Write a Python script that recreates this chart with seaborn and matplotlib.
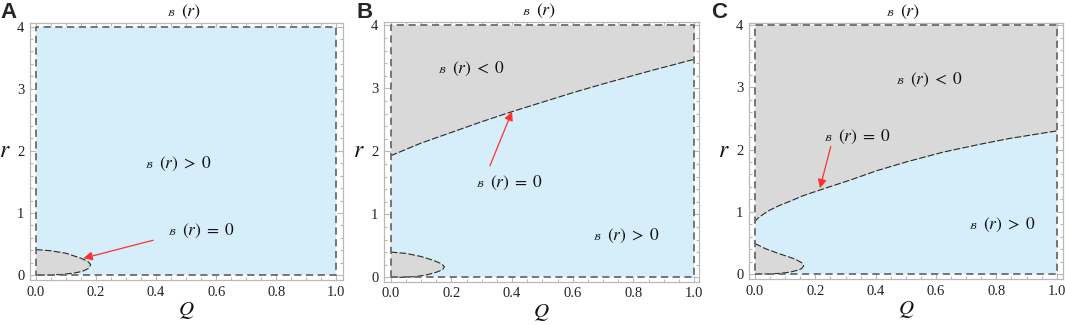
import numpy as np
import pandas as pd
import matplotlib
matplotlib.use("Agg")
import matplotlib.pyplot as plt
import seaborn as sns
from matplotlib.ticker import MultipleLocator

# ---------------- data ----------------
domain_q = [0.0, 1.0, 1.0, 0.0, 0.0]
domain_r = [0.0, 0.0, 4.0, 4.0, 0.0]

# small lobe near the origin (B(r) < 0), traced from Q=0 top, round the tip, back to r=0
lobe_A_q = [0.0, 0.05, 0.10, 0.15, 0.172, 0.182, 0.176, 0.155, 0.125, 0.085, 0.045, 0.0]
lobe_A_r = [0.41, 0.39, 0.35, 0.27, 0.22, 0.17, 0.11, 0.06, 0.03, 0.01, 0.0, 0.0]

lobe_B_q = [0.0, 0.05, 0.10, 0.14, 0.165, 0.177, 0.171, 0.15, 0.12, 0.08, 0.04, 0.0]
lobe_B_r = [0.40, 0.38, 0.33, 0.27, 0.22, 0.17, 0.12, 0.08, 0.04, 0.01, 0.0, 0.0]

lobe_C_q = [0.0, 0.033, 0.078, 0.133, 0.155, 0.161, 0.155, 0.144, 0.12, 0.10, 0.056, 0.0]
lobe_C_r = [0.49, 0.41, 0.33, 0.24, 0.18, 0.13, 0.09, 0.064, 0.035, 0.02, 0.0, 0.0]

# upper boundary B(r)=0 (region above is B(r) < 0)
upper_B_q = [0.0, 0.1, 0.2, 0.3, 0.4, 0.5, 0.6, 0.7, 0.85, 1.0]
upper_B_r = [1.93, 2.13, 2.30, 2.47, 2.63, 2.78, 2.93, 3.07, 3.27, 3.46]

upper_C_q = [0.0, 0.002, 0.008, 0.017, 0.03, 0.05, 0.08, 0.116, 0.16, 0.215, 0.315,
             0.403, 0.5, 0.624, 0.75, 0.845, 1.0]
upper_C_r = [0.83, 0.86, 0.89, 0.925, 0.97, 1.03, 1.10, 1.17, 1.26, 1.35, 1.51,
             1.66, 1.80, 1.96, 2.09, 2.18, 2.30]

panel_labels = ["A", "B", "C"]
title_text = r"$(r)$"

# annotation texts: (text, q, r) with q/r of the "(" start and baseline
labels_A = [(r"$(r)\;>\;0$", 0.408, 1.72), (r"$(r)\;=\;0$", 0.486, 0.645)]
labels_B = [(r"$(r)\;<\;0$", 0.201, 3.24), (r"$(r)\;=\;0$", 0.327, 1.44), (r"$(r)\;>\;0$", 0.712, 0.59)]
labels_C = [(r"$(r)\;<\;0$", 0.514, 3.05), (r"$(r)\;=\;0$", 0.276, 2.14), (r"$(r)\;>\;0$", 0.757, 0.73)]

# arrows: (tail q, tail r, head q, head r)
arrow_A = (0.39, 0.56, 0.158, 0.27)
arrow_B = (0.327, 1.77, 0.40, 2.63)
arrow_C = (0.251, 2.05, 0.215, 1.38)

# ---------------- style ----------------
sns.set_theme(style="white")
plt.rcParams["font.family"] = ["Liberation Serif", "DejaVu Serif"]
plt.rcParams["mathtext.fontset"] = "stix"

BLUE = "#d6eefa"
GRAY = "#d9d9d9"
FRAME = "#b8b8b8"

fig = plt.figure(figsize=(10.65, 3.25), dpi=100)

axes_pos = [
    [0.0282, 0.1385, 0.294, 0.792],
    [0.3606, 0.1332, 0.2958, 0.800],
    [0.7033, 0.1406, 0.2946, 0.7877],
]
xlims = [(-0.02, 1.023), (-0.022, 1.0165), (-0.02, 1.02)]
ylims = [(-0.08, 4.065), (-0.07, 4.057), (-0.085, 4.03)]

lobes = [(lobe_A_q, lobe_A_r), (lobe_B_q, lobe_B_r), (lobe_C_q, lobe_C_r)]
uppers = [None, (upper_B_q, upper_B_r), (upper_C_q, upper_C_r)]
labels_all = [labels_A, labels_B, labels_C]
arrows = [arrow_A, arrow_B, arrow_C]
panel_x_px = [0, 357, 711]


def btext(ax, txt, q, r, fs=12.5):
    ax.annotate(txt, (q, r), xycoords="data", ha="left", va="baseline",
                fontsize=fs, color="#111111")
    ax.annotate(r"$\mathcal{B}$", (q, r), xycoords="data", xytext=(-4, 0),
                textcoords="offset points", ha="right", va="baseline",
                fontsize=6.5, color="#111111")


for i in range(3):
    ax = fig.add_axes(axes_pos[i])
    # domain background
    ax.fill_between(domain_q[:2], 0, 4, color=BLUE, lw=0, zorder=1)
    # upper region
    if uppers[i] is not None:
        uq, ur = uppers[i]
        ax.fill_between(uq, ur, 4, color=GRAY, lw=0, zorder=2)
        df = pd.DataFrame({"Q": uq, "r": ur})
        sns.lineplot(data=df, x="Q", y="r", ax=ax, sort=False, estimator=None,
                     color="#2a2a2a", lw=0.8, zorder=4)
        ax.lines[-1].set_dashes((6, 2))
    # lobe
    lq, lr = lobes[i]
    ax.fill(lq, lr, color=GRAY, lw=0, zorder=2)
    dfl = pd.DataFrame({"Q": lq, "r": lr})
    sns.lineplot(data=dfl, x="Q", y="r", ax=ax, sort=False, estimator=None,
                 color="#2a2a2a", lw=0.8, zorder=4)
    ax.lines[-1].set_dashes((6, 2))
    # domain border
    dfd = pd.DataFrame({"Q": domain_q, "r": domain_r})
    sns.lineplot(data=dfd, x="Q", y="r", ax=ax, sort=False, estimator=None,
                 color="#6b6b6b", lw=1.3, zorder=5)
    ax.lines[-1].set_dashes((4, 2.5))

    # arrow
    tq, tr, hq, hr = arrows[i]
    ax.annotate("", xy=(hq, hr), xytext=(tq, tr),
                arrowprops=dict(arrowstyle="-|>", color="#ff3030", lw=0.9,
                                mutation_scale=13, shrinkA=0, shrinkB=0),
                zorder=6)
    for txt, q, r in labels_all[i]:
        btext(ax, txt, q, r)

    ax.set_xlim(*xlims[i])
    ax.set_ylim(*ylims[i])
    ax.xaxis.set_major_locator(MultipleLocator(0.2))
    ax.xaxis.set_minor_locator(MultipleLocator(0.05))
    ax.yaxis.set_major_locator(MultipleLocator(1))
    ax.yaxis.set_minor_locator(MultipleLocator(0.2))
    ax.set_xticks([0, 0.2, 0.4, 0.6, 0.8, 1.0])
    ax.set_xticklabels(["0.0", "0.2", "0.4", "0.6", "0.8", "1.0"])
    ax.set_yticks([0, 1, 2, 3, 4])
    ax.set_yticklabels(["0", "1", "2", "3", "4"])
    ax.tick_params(which="both", direction="in", top=True, right=True,
                   bottom=True, left=True, color=FRAME, width=0.8,
                   labelsize=10.5, labelcolor="#222222")
    ax.tick_params(which="major", length=4, pad=4)
    ax.tick_params(which="minor", length=2.2)
    for s in ax.spines.values():
        s.set_color(FRAME)
        s.set_linewidth(0.9)
    ax.set_xlabel(r"$Q$", fontsize=15, labelpad=1, color="#111111")
    ax.set_ylabel(r"$r$", fontsize=17, rotation=0, labelpad=9,
                  va="center", color="#111111")

    # title
    ax.annotate(title_text, (0.5, 1.0), xycoords="axes fraction",
                xytext=(-4, 5), textcoords="offset points",
                ha="left", va="baseline", fontsize=13, color="#111111")
    ax.annotate(r"$\mathcal{B}$", (0.5, 1.0), xycoords="axes fraction",
                xytext=(-8, 5), textcoords="offset points",
                ha="right", va="baseline", fontsize=6.5, color="#111111")

    fig.text(panel_x_px[i] / 1065, 1 - 2 / 325, panel_labels[i],
             ha="left", va="top", fontsize=16, fontweight="bold",
             family=["Liberation Sans", "DejaVu Sans"])

fig.savefig("out.png", dpi=100)
